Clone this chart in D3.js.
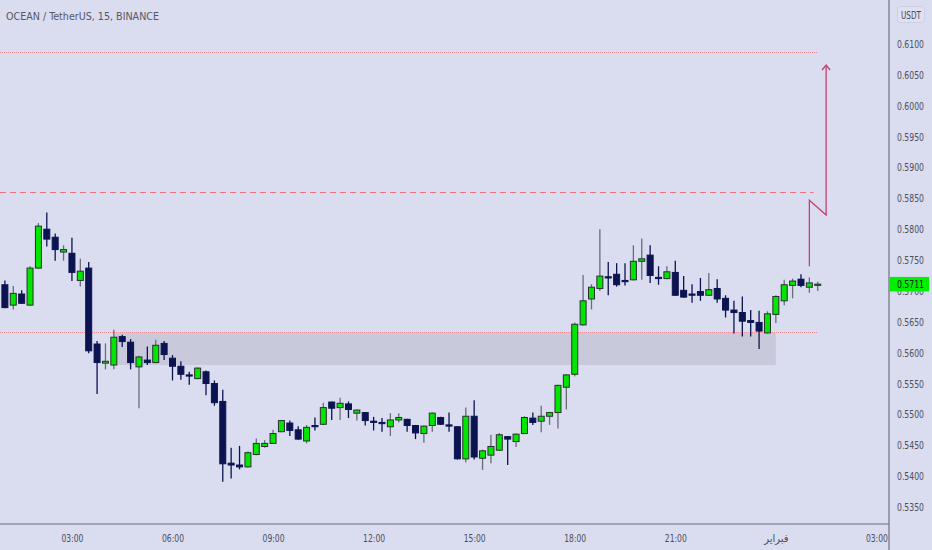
<!DOCTYPE html>
<html>
<head>
<meta charset="utf-8">
<script src="https://cdn.jsdelivr.net/npm/d3@7/dist/d3.min.js"></script>
<style>
  html, body { margin: 0; padding: 0; background: #dadcf0; }
  svg { display: block; }
  text { font-family: 'Liberation Sans Narrow', 'DejaVu Sans Condensed', 'Liberation Sans', sans-serif; }
</style>
</head>
<body>
<script>
// ---------- DATA ----------
const title = "OCEAN / TetherUS, 15, BINANCE";
const currency = "USDT";
const startTime = "2024-01-31T01:00:00Z";   // first 15-minute candle
const intervalMinutes = 15;

const open = [0.5710,0.5677,0.5695,0.5677,0.5737,0.5800,0.5787,0.5763,0.5761,0.5717,
0.5737,0.5614,0.5583,0.5580,0.5626,0.5617,0.5577,0.5588,0.5584,0.5615,
0.5591,0.5578,0.5564,0.5558,0.5569,0.5550,0.5521,0.5421,0.5418,0.5415,
0.5435,0.5448,0.5453,0.5472,0.5486,0.5475,0.5457,0.5482,0.5484,0.5520,
0.5511,0.5517,0.5502,0.5503,0.5489,0.5487,0.5480,0.5491,0.5492,0.5482,
0.5469,0.5482,0.5495,0.5483,0.5480,0.5428,0.5497,0.5429,0.5434,0.5442,
0.5464,0.5456,0.5469,0.5494,0.5489,0.5497,0.5503,0.5544,0.5565,0.5645,
0.5687,0.5704,0.5723,0.5727,0.5717,0.5718,0.5748,0.5758,0.5722,0.5720,
0.5730,0.5701,0.5695,0.5699,0.5693,0.5704,0.5688,0.5669,0.5665,0.5652,
0.5649,0.5632,0.5662,0.5684,0.5709,0.5719,0.5706,0.5709];
const high = [0.5717,0.5708,0.5701,0.5740,0.5810,0.5827,0.5793,0.5774,0.5786,0.5752,
0.5747,0.5619,0.5615,0.5637,0.5629,0.5622,0.5595,0.5610,0.5621,0.5619,
0.5596,0.5586,0.5569,0.5576,0.5571,0.5555,0.5540,0.5446,0.5449,0.5440,
0.5461,0.5458,0.5475,0.5491,0.5490,0.5481,0.5483,0.5495,0.5519,0.5521,
0.5527,0.5521,0.5508,0.5504,0.5496,0.5494,0.5502,0.5502,0.5493,0.5483,
0.5482,0.5503,0.5496,0.5503,0.5481,0.5511,0.5523,0.5443,0.5467,0.5470,
0.5465,0.5469,0.5497,0.5503,0.5514,0.5504,0.5548,0.5565,0.5649,0.5726,
0.5711,0.5800,0.5747,0.5745,0.5745,0.5774,0.5785,0.5774,0.5740,0.5740,
0.5749,0.5724,0.5711,0.5721,0.5729,0.5719,0.5693,0.5684,0.5691,0.5669,
0.5668,0.5667,0.5693,0.5718,0.5720,0.5727,0.5722,0.5715];
const low = [0.5672,0.5670,0.5679,0.5676,0.5736,0.5772,0.5749,0.5749,0.5716,0.5707,
0.5599,0.5533,0.5573,0.5573,0.5609,0.5573,0.5510,0.5580,0.5583,0.5588,
0.5555,0.5556,0.5548,0.5557,0.5531,0.5514,0.5391,0.5396,0.5411,0.5414,
0.5434,0.5446,0.5452,0.5471,0.5465,0.5459,0.5453,0.5474,0.5483,0.5491,
0.5491,0.5494,0.5490,0.5482,0.5474,0.5472,0.5465,0.5487,0.5472,0.5460,
0.5454,0.5472,0.5483,0.5472,0.5427,0.5422,0.5427,0.5410,0.5421,0.5441,
0.5418,0.5447,0.5468,0.5483,0.5471,0.5483,0.5477,0.5508,0.5562,0.5644,
0.5670,0.5700,0.5693,0.5707,0.5709,0.5717,0.5718,0.5713,0.5710,0.5719,
0.5692,0.5689,0.5681,0.5684,0.5692,0.5681,0.5657,0.5631,0.5626,0.5626,
0.5606,0.5631,0.5648,0.5677,0.5688,0.5706,0.5697,0.5700];
const close = [0.5673,0.5696,0.5680,0.5737,0.5805,0.5784,0.5767,0.5767,0.5730,0.5732,
0.5603,0.5584,0.5586,0.5625,0.5618,0.5584,0.5593,0.5584,0.5612,0.5597,
0.5578,0.5565,0.5563,0.5575,0.5550,0.5519,0.5420,0.5418,0.5415,0.5438,
0.5453,0.5453,0.5469,0.5490,0.5474,0.5460,0.5479,0.5481,0.5511,0.5510,
0.5518,0.5508,0.5507,0.5490,0.5487,0.5486,0.5491,0.5495,0.5482,0.5470,
0.5481,0.5502,0.5484,0.5482,0.5428,0.5497,0.5431,0.5441,0.5448,0.5467,
0.5460,0.5468,0.5495,0.5487,0.5497,0.5503,0.5547,0.5564,0.5646,0.5684,
0.5706,0.5724,0.5721,0.5710,0.5715,0.5748,0.5752,0.5725,0.5720,0.5731,
0.5693,0.5690,0.5694,0.5693,0.5702,0.5687,0.5669,0.5665,0.5651,0.5649,
0.5635,0.5663,0.5691,0.5710,0.5716,0.5709,0.5713,0.5711];

const priceTicks = [0.5350,0.5400,0.5450,0.5500,0.5550,0.5600,0.5650,0.5700,0.5750,0.5800,
0.5850,0.5900,0.5950,0.6000,0.6050,0.6100];
const timeTicks = ["2024-01-31T03:00:00Z","2024-01-31T06:00:00Z","2024-01-31T09:00:00Z",
"2024-01-31T12:00:00Z","2024-01-31T15:00:00Z","2024-01-31T18:00:00Z","2024-01-31T21:00:00Z",
"2024-02-01T00:00:00Z","2024-02-01T03:00:00Z"];
const timeTickLabels = ["03:00","06:00","09:00","12:00","15:00","18:00","21:00","فبراير","03:00"];

// drawings
const levelPrices = [0.6087, 0.5860, 0.5634];
const levelStyles = ["dotted", "dashed", "dotted"];
const levelEnds = ["2024-02-01T01:15:00Z", "2024-02-01T01:07:30Z", "2024-02-01T01:15:00Z"];
const zoneTop = 0.5633, zoneBottom = 0.5580;
const zoneStart = "2024-01-31T04:15:00Z", zoneEnd = "2024-02-01T00:00:00Z";
const arrowTimes = ["2024-02-01T01:00:00Z","2024-02-01T01:00:00Z","2024-02-01T01:30:00Z","2024-02-01T01:30:00Z"];
const arrowPrices = [0.5740, 0.5847, 0.5823, 0.6066];
const lastPrice = 0.5711;

// ---------- LAYOUT ----------
const W = 932, H = 550;
const plotRight = 889, plotBottom = 524;
const bg = "#dadcf0";
const textColor = "#4d4f5a";
const up = "#00e600", down = "#0b1450";

const svg = d3.select("body").append("svg").attr("width", W).attr("height", H);
svg.append("rect").attr("width", W).attr("height", H).attr("fill", bg);

const t0 = new Date(startTime);
const times = open.map((_, i) => d3.utcMinute.offset(t0, i * intervalMinutes));

const x = d3.scaleUtc()
  .domain([new Date("2024-01-31T01:00:00Z"), new Date("2024-02-01T03:00:00Z")])
  .range([4.9, 876.4]);
const y = d3.scaleLinear().domain([0.535, 0.610]).range([507, 44]);

const plot = svg.append("g");

// zone
plot.append("rect")
  .attr("x", x(new Date(zoneStart)))
  .attr("y", y(zoneTop))
  .attr("width", x(new Date(zoneEnd)) - x(new Date(zoneStart)))
  .attr("height", y(zoneBottom) - y(zoneTop))
  .attr("fill", "#c8cadc");

// levels
levelPrices.forEach((p, i) => {
  plot.append("line")
    .attr("x1", 0).attr("x2", x(new Date(levelEnds[i])))
    .attr("y1", Math.round(y(p)) + 0.5).attr("y2", Math.round(y(p)) + 0.5)
    .attr("stroke", levelStyles[i] === "dashed" ? "#f0707c" : "#f08a92")
    .attr("stroke-width", 1)
    .attr("stroke-dasharray", levelStyles[i] === "dashed" ? "6,4" : "1,1");
});

// candles
const bw = 6;
const candles = plot.append("g").selectAll("g").data(times).join("g");
candles.append("line")
  .attr("x1", (d) => x(d)).attr("x2", (d) => x(d))
  .attr("y1", (d, i) => y(high[i])).attr("y2", (d, i) => y(low[i]))
  .attr("stroke", (d, i) => close[i] >= open[i] ? "#6a6c78" : down)
  .attr("stroke-width", 1.3);
candles.append("rect")
  .attr("x", (d) => x(d) - bw / 2)
  .attr("y", (d, i) => y(Math.max(open[i], close[i])))
  .attr("width", bw)
  .attr("height", (d, i) => Math.max(1.2, Math.abs(y(open[i]) - y(close[i]))))
  .attr("fill", (d, i) => close[i] >= open[i] ? up : down)
  .attr("stroke", (d, i) => close[i] >= open[i] ? "#2a3030" : down)
  .attr("stroke-width", 1);

// arrow
const arrowPts = arrowTimes.map((t, i) => [x(new Date(t)), y(arrowPrices[i])]);
plot.append("path")
  .attr("d", d3.line()(arrowPts))
  .attr("fill", "none").attr("stroke", "#c8416f").attr("stroke-width", 1.3);
const tip = arrowPts[arrowPts.length - 1];
plot.append("path")
  .attr("d", d3.line()([[tip[0] - 4, tip[1] + 5], tip, [tip[0] + 4, tip[1] + 5]]))
  .attr("fill", "none").attr("stroke", "#c8416f").attr("stroke-width", 1.3);

// axes lines
svg.append("line").attr("x1", 0).attr("x2", plotRight).attr("y1", plotBottom).attr("y2", plotBottom)
  .attr("stroke", "#6f717c").attr("stroke-width", 1.2);
svg.append("line").attr("x1", plotRight).attr("x2", plotRight).attr("y1", 0).attr("y2", H)
  .attr("stroke", "#6f717c").attr("stroke-width", 1.2);

// y axis
const yAxis = svg.append("g").attr("transform", `translate(${plotRight},0)`)
  .call(d3.axisRight(y).tickValues(priceTicks).tickSize(0).tickPadding(8).tickFormat(d3.format(".4f")));
yAxis.select(".domain").remove();
yAxis.selectAll("text").attr("fill", textColor).attr("font-size", 11)
  .attr("textLength", 27).attr("lengthAdjust", "spacingAndGlyphs");

// x axis
const xAxis = svg.append("g").attr("transform", `translate(0,${plotBottom})`)
  .call(d3.axisBottom(x).tickValues(timeTicks.map((t) => new Date(t))).tickSize(0).tickPadding(10)
    .tickFormat((d, i) => timeTickLabels[i]));
xAxis.select(".domain").remove();
xAxis.selectAll("text").attr("fill", textColor).attr("font-size", 11)
  .each(function (d, i) {
    if (timeTickLabels[i].indexOf(":") >= 0) {
      d3.select(this).attr("textLength", 22).attr("lengthAdjust", "spacingAndGlyphs");
    }
  });

// currency badge
svg.append("rect").attr("x", 897.5).attr("y", 6.5).attr("width", 27).attr("height", 16).attr("rx", 3)
  .attr("fill", "#dfe1f3").attr("stroke", "#cdd0e4");
svg.append("text").attr("x", 911).attr("y", 18.5).attr("text-anchor", "middle")
  .attr("font-size", 10.5).attr("fill", "#444650").attr("textLength", 20).attr("lengthAdjust", "spacingAndGlyphs")
  .text(currency);

// last price label
svg.append("rect").attr("x", plotRight + 0.6).attr("y", y(lastPrice) - 7.2).attr("width", 39.5).attr("height", 14.5)
  .attr("fill", "#00f000");
svg.append("text").attr("x", 897).attr("y", y(lastPrice) + 4).attr("font-size", 11)
  .attr("fill", "#10131c").attr("textLength", 27).attr("lengthAdjust", "spacingAndGlyphs")
  .text(d3.format(".4f")(lastPrice));

// title
svg.append("text").attr("x", 6).attr("y", 20).attr("font-size", 10.5).attr("fill", "#555866")
  .attr("textLength", 153).attr("lengthAdjust", "spacingAndGlyphs")
  .text(title);
</script>
</body>
</html>
